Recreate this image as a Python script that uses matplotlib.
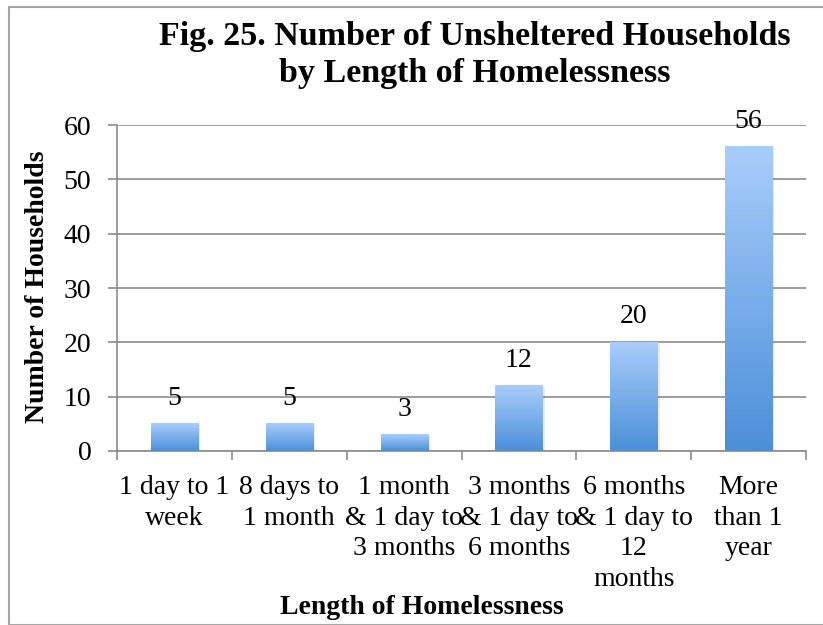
import numpy as np
import matplotlib
matplotlib.use("Agg")
import matplotlib.pyplot as plt
from matplotlib.colors import LinearSegmentedColormap
from matplotlib.patches import Rectangle

categories = ["1 day to 1\nweek", "8 days to\n1 month", "1 month\n& 1 day to\n3 months",
              "3 months\n& 1 day to\n6 months", "6 months\n& 1 day to\n12\nmonths",
              "More\nthan 1\nyear"]
values = [5, 5, 3, 12, 20, 56]
yticks = [0, 10, 20, 30, 40, 50, 60]

W, H = 823, 625
fig = plt.figure(figsize=(W / 100, H / 100), dpi=100)
serif = ["Liberation Serif", "DejaVu Serif"]

# outer frame
fig.patches.append(Rectangle((9 / W, 0), 1.2, 1 - 6.5 / H, transform=fig.transFigure,
                             fill=False, edgecolor="#a6a6a6", linewidth=1.5, zorder=0))

ax = fig.add_axes([117 / W, 1 - 451 / H, (806 - 117) / W, (451 - 125) / H])

cmap = LinearSegmentedColormap.from_list("g", ["#4a8fd8", "#a9cdfb"])
grad = np.linspace(0, 1, 256).reshape(-1, 1)
bw = 0.41
for i, v in enumerate(values):
    ax.add_patch(Rectangle((i - bw / 2 + 0.02, -0.3), bw, v, facecolor="#000000",
                           alpha=0.08, edgecolor="none", zorder=2))
    ax.imshow(grad, cmap=cmap, origin="lower", aspect="auto",
              extent=(i - bw / 2, i + bw / 2, 0, v), zorder=3)
    ax.text(i, v + 2.4, str(v), ha="center", va="bottom", fontsize=20,
            family=serif, color="#000000", zorder=4)
ax.set_xlim(-0.5, len(values) - 0.5)
ax.set_ylim(0, 60)

ax.set_yticks(yticks)
ax.set_yticklabels([str(t) for t in yticks], family=serif, fontsize=20)
ax.set_xticks(np.arange(len(values)))
ax.set_xticklabels(categories, family=serif, fontsize=20, linespacing=1.31, va="top")
ax.tick_params(axis="x", length=0, pad=17)
ax.tick_params(axis="y", length=6.5, color="#8c8c8c", width=1.2, pad=12)
ax.set_xticks(np.arange(len(values) + 1) - 0.5, minor=True)
ax.tick_params(axis="x", which="minor", length=6.5, color="#8c8c8c", width=1.2, direction="out")

ax.grid(axis="y", color="#8c8c8c", linewidth=1.2, zorder=1)
ax.set_axisbelow(True)
for s in ["top", "right"]:
    ax.spines[s].set_visible(False)
for s in ["left", "bottom"]:
    ax.spines[s].set_color("#8c8c8c")
    ax.spines[s].set_linewidth(1.2)

fig.text(475 / W, 1 - 55 / H, "Fig. 25. Number of Unsheltered Households\nby Length of Homelessness",
         ha="center", va="center", fontsize=24.5, fontweight="bold", family=serif, linespacing=1.25)
fig.text(422 / W, 1 - 608 / H, "Length of Homelessness", ha="center", va="center",
         fontsize=20, fontweight="bold", family=serif)
fig.text(38 / W, 1 - 287 / H, "Number of Households", ha="center", va="center",
         fontsize=20, fontweight="bold", family=serif, rotation=90)

fig.savefig("out.png", dpi=100)
